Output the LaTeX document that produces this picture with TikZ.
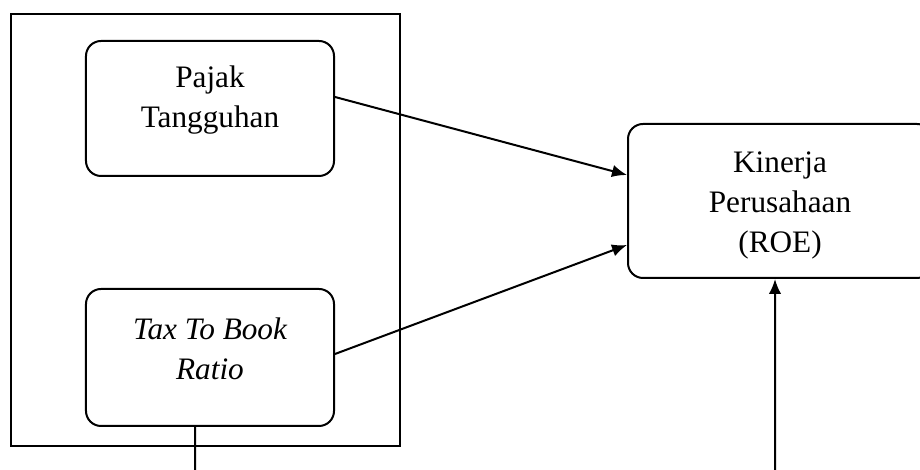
\documentclass[tikz,border=0pt]{standalone}
\usepackage{fontspec}
\setmainfont{Liberation Serif}
\usetikzlibrary{positioning,calc,arrows.meta}
\tikzset{box/.style={draw,rounded corners=6pt,line width=0.8pt,inner sep=0pt},
txt/.style={align=center,font=\fontsize{12.5}{16}\selectfont},
conn/.style={line width=0.8pt,-{Latex[length=6pt,width=5pt]}}}

\begin{document}
\begin{tikzpicture}[x=0.4pt,y=-0.4pt]
\useasboundingbox (0,0) rectangle (920,470);
\node[draw,line width=0.8pt,minimum width=155.6pt,minimum height=172.8pt] (frame) at (205.5,230) {};
\node[box,minimum width=99.2pt,minimum height=54pt] (pajak) at (210,108.5) {};
\node[box,minimum width=99.2pt,minimum height=54.8pt] (tax) at (210,357.5) {};
\node[box,minimum width=121.6pt,minimum height=61.6pt] (kinerja) at (780,201) {};
\node[txt] (pajaktxt) at (210,100) {Pajak\\Tangguhan};
\node[txt] (taxtxt) at (210,349) {\itshape Tax To Book\\\itshape Ratio};
\node[txt] (kinerjatxt) at (780,205) {Kinerja\\Perusahaan\\(ROE)};
\coordinate (b1) at (195,470);
\coordinate (b2) at (775,470);
\draw[conn] ([yshift=4.6pt]pajak.east) -- ([yshift=10.4pt]kinerja.west);
\draw[conn] ([yshift=1.4pt]tax.east) -- ([yshift=-17.6pt]kinerja.west);
\draw[line width=0.8pt] ([xshift=-6pt]tax.south) -- (b1);
\draw[conn] (b2) -- ([xshift=-2pt]kinerja.south);
\end{tikzpicture}
\end{document}
